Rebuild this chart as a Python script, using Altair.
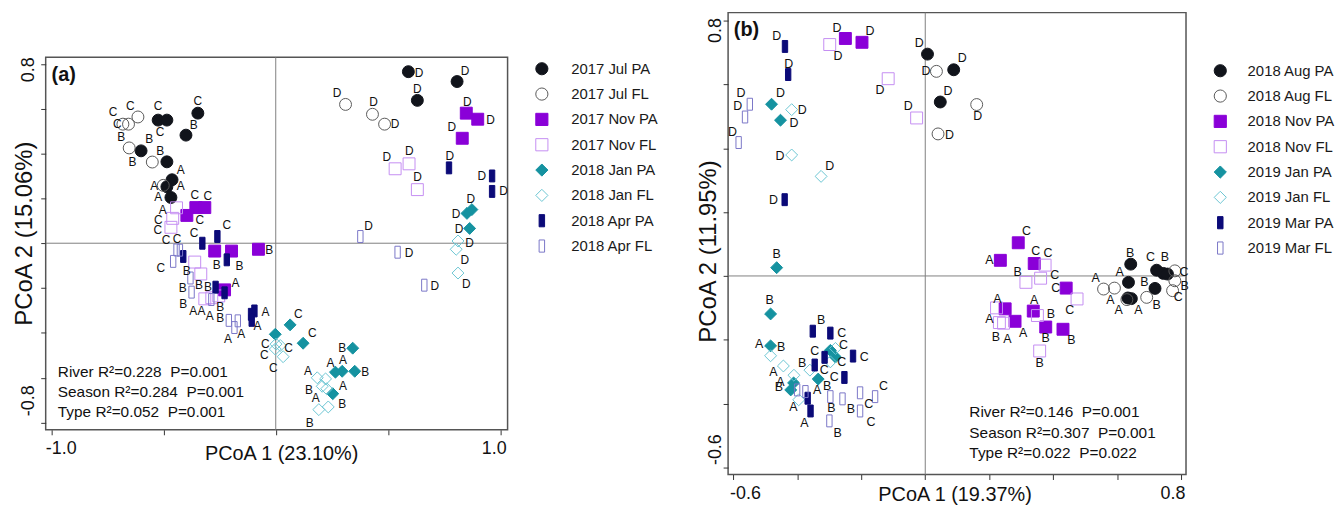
import altair as alt
import pandas as pd

FONT = "Liberation Sans"

# ---------------- panel (a) ----------------
A_GROUPS = ["2017 Jul PA", "2017 Jul FL", "2017 Nov PA", "2017 Nov FL",
            "2018 Jan PA", "2018 Jan FL", "2018 Apr PA", "2018 Apr FL"]

# (PCoA1, PCoA2, letter, letter PCoA1, letter PCoA2)
A_JUL_PA = [(-0.524, 0.549, "C", -0.524, 0.611), (-0.485, 0.549, "C", -0.515, 0.496),
            (-0.347, 0.580, "C", -0.347, 0.633), (-0.400, 0.482, "B", -0.365, 0.527),
            (-0.600, 0.412, "B", -0.564, 0.465), (-0.485, 0.363, "B", -0.515, 0.412),
            (-0.462, 0.283, "A", -0.423, 0.327), (-0.485, 0.252, "A", -0.423, 0.257),
            (-0.467, 0.204, "A", -0.524, 0.208), (0.591, 0.765, "D", 0.639, 0.761),
            (0.808, 0.721, "D", 0.843, 0.770), (0.631, 0.637, "D", 0.631, 0.686)]
A_JUL_FL = [(-0.681, 0.531, "C", -0.706, 0.531), (-0.656, 0.531, "C", -0.725, 0.583),
            (-0.614, 0.563, "C", -0.648, 0.612), (-0.653, 0.425, "B", -0.689, 0.472),
            (-0.550, 0.362, "B", -0.638, 0.362), (-0.501, 0.258, "A", -0.542, 0.257),
            (0.311, 0.619, "D", 0.273, 0.668), (0.431, 0.575, "D", 0.436, 0.631),
            (0.485, 0.531, "D", 0.532, 0.531)]
A_NOV_PA = [(-0.356, 0.159, "C", -0.361, 0.217), (-0.316, 0.159, "C", -0.303, 0.212),
            (-0.396, 0.124, "C", -0.338, 0.102), (-0.272, -0.035, "B", -0.263, -0.097),
            (-0.197, -0.035, "B", -0.162, -0.102), (-0.077, -0.027, "B", -0.029, -0.031),
            (-0.228, -0.208, "A", -0.179, -0.177), (0.849, 0.580, "D", 0.853, 0.631),
            (0.900, 0.553, "D", 0.957, 0.549), (0.831, 0.468, "D", 0.785, 0.519)]
A_NOV_FL = [(-0.442, 0.158, "A", -0.504, 0.149), (-0.459, 0.111, "C", -0.523, 0.103),
            (-0.467, 0.071, "C", -0.526, 0.059), (-0.361, -0.084, "B", -0.397, -0.123),
            (-0.334, -0.137, "B", -0.342, -0.185), (-0.316, -0.248, "A", -0.368, -0.302),
            (-0.285, -0.243, "A", -0.331, -0.302), (-0.254, -0.235, "A", -0.294, -0.323),
            (0.532, 0.332, "D", 0.495, 0.384), (0.594, 0.354, "D", 0.595, 0.413),
            (0.631, 0.239, "D", 0.632, 0.295)]
A_JAN_PA = [(0.064, -0.364, "C", 0.101, -0.317), (-0.002, -0.406, "", None, None),
            (0.122, -0.446, "C", 0.163, -0.402), (0.343, -0.468, "B", 0.296, -0.468),
            (0.266, -0.575, "A", 0.244, -0.534), (0.296, -0.571, "A", 0.299, -0.523),
            (0.352, -0.571, "B", 0.399, -0.575), (0.254, -0.671, "A", 0.300, -0.637),
            (0.852, 0.133, "D", 0.803, 0.128), (0.874, 0.150, "D", 0.869, 0.199),
            (0.864, 0.066, "D", 0.817, 0.063)]
A_JAN_FL = [(0.001, -0.450, "C", -0.046, -0.450), (-0.002, -0.472, "C", -0.051, -0.497),
            (0.033, -0.506, "C", -0.011, -0.556), (0.020, -0.456, "C", 0.057, -0.468),
            (0.185, -0.600, "A", 0.144, -0.568), (0.222, -0.605, "", None, None),
            (0.207, -0.638, "B", 0.148, -0.654), (0.227, -0.649, "A", 0.178, -0.690),
            (0.234, -0.730, "B", 0.296, -0.715), (0.192, -0.742, "B", 0.151, -0.801),
            (0.812, 0.010, "D", 0.864, 0.003), (0.804, -0.027, "D", 0.842, -0.075),
            (0.812, -0.133, "D", 0.849, -0.181)]
A_APR_PA = [(-0.327, 0.000, "C", -0.364, 0.044), (-0.260, 0.030, "C", -0.218, 0.081),
            (-0.412, -0.059, "", None, None), (-0.218, -0.074, "", None, None),
            (-0.268, -0.196, "B", -0.302, -0.196), (-0.228, -0.221, "B", -0.247, -0.283),
            (-0.110, -0.317, "A", -0.046, -0.307), (-0.095, -0.302, "", None, None),
            (-0.107, -0.344, "A", -0.081, -0.369), (0.772, 0.336, "D", 0.775, 0.391),
            (0.964, 0.300, "D", 0.918, 0.298), (0.964, 0.231, "D", 1.015, 0.231)]
A_APR_FL = [(-0.442, -0.030, "C", -0.489, 0.015), (-0.457, -0.081, "C", -0.512, -0.111),
            (-0.427, -0.031, "C", -0.440, 0.018), (-0.380, -0.155, "B", -0.415, -0.199),
            (-0.375, -0.218, "B", -0.412, -0.273), (-0.287, -0.251, "", None, None),
            (-0.209, -0.344, "B", -0.247, -0.332), (-0.184, -0.376, "A", -0.213, -0.428),
            (-0.169, -0.346, "A", -0.154, -0.406), (0.377, 0.030, "D", 0.414, 0.078),
            (0.543, -0.040, "D", 0.594, -0.044), (0.662, -0.187, "D", 0.709, -0.189)]
A_SERIES = [A_JUL_PA, A_JUL_FL, A_NOV_PA, A_NOV_FL, A_JAN_PA, A_JAN_FL, A_APR_PA, A_APR_FL]
A_STATS = ["River R\u00b2=0.228\u00a0 P=0.001", "Season R\u00b2=0.284\u00a0 P=0.001",
           "Type R\u00b2=0.052\u00a0 P=0.001"]

# ---------------- panel (b) ----------------
B_GROUPS = ["2018 Aug PA", "2018 Aug FL", "2018 Nov PA", "2018 Nov FL",
            "2019 Jan PA", "2019 Jan FL", "2019 Mar PA", "2019 Mar FL"]
B_AUG_PA = [(0.007, 0.695, "D", -0.019, 0.730), (0.089, 0.646, "D", 0.116, 0.682),
            (0.047, 0.545, "D", 0.071, 0.578), (0.643, 0.037, "B", 0.641, 0.073),
            (0.636, -0.020, "A", 0.608, 0.011), (0.634, -0.069, "A", 0.605, -0.106),
            (0.645, -0.071, "A", 0.667, -0.106), (0.724, 0.018, "C", 0.705, 0.060),
            (0.745, 0.008, "B", 0.750, 0.058), (0.758, 0.006, "", None, None),
            (0.719, -0.039, "B", 0.724, -0.091)]
B_AUG_FL = [(0.035, 0.641, "D", 0.002, 0.641), (0.040, 0.445, "D", 0.076, 0.442),
            (0.161, 0.537, "D", 0.164, 0.502), (0.558, -0.041, "A", 0.533, -0.005),
            (0.592, -0.038, "A", 0.579, -0.075), (0.693, -0.067, "B", 0.686, -0.020),
            (0.781, -0.015, "B", 0.812, -0.030), (0.781, 0.016, "C", 0.810, 0.011),
            (0.631, -0.074, "", None, None), (0.774, -0.046, "C", 0.792, -0.066)]
B_NOV_PA = [(-0.250, 0.744, "D", -0.276, 0.778), (-0.198, 0.732, "D", -0.173, 0.768),
            (0.291, 0.104, "C", 0.317, 0.141), (0.235, 0.049, "A", 0.201, 0.049),
            (0.341, 0.039, "C", 0.346, 0.078), (0.441, -0.038, "C", 0.408, -0.039),
            (0.250, -0.103, "A", 0.226, -0.072), (0.281, -0.142, "A", 0.306, -0.178),
            (0.338, -0.110, "A", 0.341, -0.075), (0.377, -0.160, "B", 0.377, -0.194),
            (0.431, -0.167, "B", 0.457, -0.202)]
B_NOV_FL = [(-0.299, 0.725, "D", -0.273, 0.690), (-0.116, 0.618, "D", -0.142, 0.583),
            (-0.027, 0.495, "D", -0.053, 0.532), (0.375, 0.034, "C", 0.384, 0.071),
            (0.315, -0.020, "B", 0.289, 0.013), (0.361, -0.007, "C", 0.405, 0.004),
            (0.475, -0.072, "C", 0.452, -0.106), (0.223, -0.100, "A", 0.201, -0.134),
            (0.245, -0.148, "B", 0.221, -0.191), (0.232, -0.146, "A", 0.257, -0.199),
            (0.351, -0.124, "B", 0.393, -0.119), (0.358, -0.235, "B", 0.358, -0.274)]
B_JAN_PA = [(-0.481, 0.538, "D", -0.453, 0.573), (-0.453, 0.488, "D", -0.411, 0.480),
            (-0.465, 0.026, "B", -0.465, 0.068), (-0.484, -0.119, "B", -0.487, -0.075),
            (-0.484, -0.219, "A", -0.520, -0.214), (-0.297, -0.233, "", None, None),
            (-0.281, -0.254, "C", -0.256, -0.217), (-0.335, -0.323, "B", -0.307, -0.345),
            (-0.421, -0.357, "B", -0.458, -0.347), (-0.412, -0.335, "", None, None)]
B_JAN_FL = [(-0.418, 0.521, "D", -0.385, 0.521), (-0.418, 0.379, "D", -0.455, 0.377),
            (-0.326, 0.312, "D", -0.299, 0.345), (-0.484, -0.250, "B", -0.451, -0.223),
            (-0.444, -0.282, "A", -0.475, -0.300), (-0.411, -0.311, "A", -0.453, -0.333),
            (-0.361, -0.295, "B", -0.385, -0.274), (-0.281, -0.227, "", None, None),
            (-0.297, -0.269, "C", -0.261, -0.269), (-0.396, -0.388, "A", -0.413, -0.412)]
B_MAR_PA = [(-0.439, 0.719, "D", -0.465, 0.753), (-0.429, 0.631, "D", -0.427, 0.664),
            (-0.440, 0.239, "D", -0.475, 0.237), (-0.352, -0.173, "B", -0.326, -0.137),
            (-0.297, -0.179, "C", -0.261, -0.179), (-0.346, -0.279, "C", -0.346, -0.236),
            (-0.315, -0.255, "C", -0.316, -0.295), (-0.226, -0.251, "C", -0.191, -0.254),
            (-0.253, -0.318, "C", -0.285, -0.318), (-0.368, -0.383, "A", -0.338, -0.357),
            (-0.359, -0.423, "A", -0.378, -0.461)]
B_MAR_FL = [(-0.549, 0.538, "D", -0.577, 0.574), (-0.564, 0.498, "D", -0.587, 0.532),
            (-0.584, 0.418, "D", -0.603, 0.452), (-0.401, -0.357, "", None, None),
            (-0.375, -0.362, "", None, None), (-0.297, -0.378, "B", -0.294, -0.414),
            (-0.259, -0.385, "B", -0.233, -0.416), (-0.204, -0.366, "C", -0.177, -0.401),
            (-0.157, -0.378, "C", -0.131, -0.345), (-0.204, -0.423, "C", -0.170, -0.459),
            (-0.300, -0.454, "B", -0.274, -0.492)]
B_SERIES = [B_AUG_PA, B_AUG_FL, B_NOV_PA, B_NOV_FL, B_JAN_PA, B_JAN_FL, B_MAR_PA, B_MAR_FL]
B_STATS = ["River R\u00b2=0.146\u00a0 P=0.001", "Season R\u00b2=0.307\u00a0 P=0.001",
           "Type R\u00b2=0.022\u00a0 P=0.022"]

# ---------------- styles ----------------
BAR = "M-0.45,-1L0.45,-1L0.45,1L-0.45,1Z"
SHAPES = ["circle", "circle", "square", "square", "diamond", "diamond", BAR, BAR]
FILLS = ["#11141b", "transparent", "#8a00d8", "transparent",
         "#1592a0", "transparent", "#0b0a78", "transparent"]
STROKES = ["#11141b", "#5a5a5a", "#8a00d8", "#c58ef2",
           "#1592a0", "#6cc6d3", "#0b0a78", "#7b77c8"]


def to_frame(groups, series):
    rows = []
    for g, pts in zip(groups, series):
        for (x, y, lab, lx, ly) in pts:
            rows.append({"group": g, "x": x, "y": y, "lab": lab, "lx": lx, "ly": ly})
    return pd.DataFrame(rows)


def panel(groups, series, xdom, ydom, w, h, xticks, yticks, xexpr, yexpr,
          xtitle, ytitle, xt_pos, yt_pos, ytitle_size, flush_off, ylab_off, ylab_pad,
          leg_pos, leg_off, tag, tag_pos, stats, stats_pos, letter_size):
    df = to_frame(groups, series)
    lab_df = df[df["lab"] != ""]
    xs = alt.Scale(domain=xdom, nice=False, zero=False)
    ys = alt.Scale(domain=ydom, nice=False, zero=False)
    xaxis = alt.Axis(values=xticks, labelExpr=xexpr, title=xtitle, grid=False, domain=False,
                     tickSize=5, tickColor="#333333", labelFontSize=18, labelColor="#111111",
                     labelFlush=10, labelFlushOffset=flush_off, labelPadding=5,
                     labelOverlap=False, titleFontSize=20, titleFontWeight="normal",
                     titleColor="#111111", titleX=xt_pos[0], titleY=xt_pos[1],
                     titleBaseline="middle")
    yaxis = alt.Axis(values=yticks, labelExpr=yexpr, title=ytitle, grid=False, domain=False,
                     tickSize=5, tickColor="#333333", labelFontSize=18, labelColor="#111111",
                     labelAngle=270, labelBaseline="alphabetic",
                     labelAlign={"condition": {"test": "datum.value > 0", "value": "right"},
                                 "value": "left"},
                     labelOffset=ylab_off, labelPadding=ylab_pad, labelOverlap=False,
                     titleFontSize=ytitle_size, titleFontWeight="normal", titleColor="#111111",
                     titleAngle=270, titleX=yt_pos[0], titleY=yt_pos[1], titleBaseline="middle")
    legend = alt.Legend(orient="none", legendX=leg_pos[0], legendY=leg_pos[1], title=None,
                        symbolSize=150, symbolStrokeWidth=1, labelFontSize=15,
                        labelColor="#1a1a1a", labelOffset=leg_off, rowPadding=8.5, padding=0)
    X = lambda f: alt.X(f, scale=xs, axis=xaxis)
    Y = lambda f: alt.Y(f, scale=ys, axis=yaxis)

    zero_df = pd.DataFrame({"v": [0.0]})
    vrule = alt.Chart(zero_df).mark_rule(color="#808080", strokeWidth=1).encode(x=X("v:Q"))
    hrule = alt.Chart(zero_df).mark_rule(color="#808080", strokeWidth=1).encode(y=Y("v:Q"))
    pts = alt.Chart(df).mark_point(opacity=1, strokeWidth=1, size=144).encode(
        x=X("x:Q"), y=Y("y:Q"),
        shape=alt.Shape("group:N", scale=alt.Scale(domain=groups, range=SHAPES), legend=legend),
        fill=alt.Fill("group:N", scale=alt.Scale(domain=groups, range=FILLS), legend=legend),
        stroke=alt.Stroke("group:N", scale=alt.Scale(domain=groups, range=STROKES), legend=legend),
    )
    letters = alt.Chart(lab_df).mark_text(fontSize=letter_size, color="#111111").encode(
        x=X("lx:Q"), y=Y("ly:Q"), text="lab:N")
    st_df = pd.DataFrame({"t": stats, "sx": [stats_pos[0]] * 3, "sy": stats_pos[1]})
    stat_txt = alt.Chart(st_df).mark_text(align="left", baseline="middle", fontSize=15.5,
                                          color="#111111").encode(
        x=X("sx:Q"), y=Y("sy:Q"), text="t:N")
    tag_df = pd.DataFrame({"t": [tag], "tx": [tag_pos[0]], "ty": [tag_pos[1]]})
    tag_txt = alt.Chart(tag_df).mark_text(align="left", baseline="middle", fontSize=20,
                                          fontWeight="bold", color="#111111").encode(
        x=X("tx:Q"), y=Y("ty:Q"), text="t:N")
    return alt.layer(vrule, hrule, pts, letters, stat_txt, tag_txt).properties(width=w, height=h)


pa = panel(A_GROUPS, A_SERIES, [-1.025, 1.033], [-0.832, 0.829], 465, 375,
           [-1.0, -0.5, 0.0, 0.5, 1.0], [-0.8, -0.6, -0.4, -0.2, 0.0, 0.2, 0.4, 0.6, 0.8],
           "datum.value < -0.9 ? '-1.0' : (datum.value > 0.9 ? '1.0' : '')",
           "datum.value < -0.7 ? '-0.8' : (datum.value > 0.7 ? '0.8' : '')",
           "PCoA 1 (23.10%)", "PCoA 2 (15.06%)", (237, 24), (-21, 177), 24,
           6, -7, 7, (492, 4), 22, "(a)", (-0.999, 0.752),
           A_STATS, (-0.971, [-0.575, -0.664, -0.752]), 12)

pb = panel(B_GROUPS, B_SERIES, [-0.617, 0.816], [-0.622, 0.825], 461, 465,
           [-0.6, -0.4, -0.2, 0.0, 0.2, 0.4, 0.6, 0.8],
           [-0.6, -0.4, -0.2, 0.0, 0.2, 0.4, 0.6, 0.8],
           "datum.value < -0.5 ? '-0.6' : (datum.value > 0.7 ? '0.8' : '')",
           "datum.value < -0.5 ? '-0.6' : (datum.value > 0.7 ? '0.8' : '')",
           "PCoA 1 (19.37%)", "PCoA 2 (11.95%)", (228, 20), (-20, 240), 24,
           4, -3, 3, (488, 51), 20, "(b)", (-0.599, 0.769),
           B_STATS, (0.138, [-0.426, -0.491, -0.556]), 12.5)

chart = alt.hconcat(pa, pb, spacing=222, bounds="flush", center=True).resolve_scale(
    x="independent", y="independent", shape="independent", fill="independent",
    stroke="independent").resolve_legend(
    shape="independent", fill="independent", stroke="independent").properties(
    padding={"left": 12, "top": 9, "right": 0, "bottom": 0}).configure(
    font=FONT).configure_view(stroke="#555555", strokeWidth=1.5)

chart.save("out.html", embed_options={"renderer": "svg", "actions": False})
